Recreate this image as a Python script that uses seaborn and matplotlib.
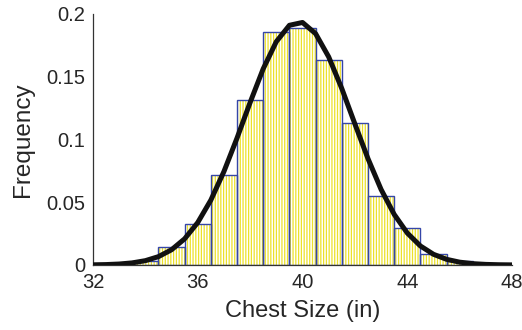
import numpy as np
import pandas as pd
import matplotlib
matplotlib.use("Agg")
import matplotlib.pyplot as plt
import seaborn as sns

# Chest circumference (inches) and relative frequency of each size
chest_size = [33, 34, 35, 36, 37, 38, 39, 40, 41, 42, 43, 44, 45, 46, 47, 48]
frequency = [0.0005, 0.0033, 0.0141, 0.0330, 0.0714, 0.1314, 0.1853, 0.1888,
             0.1631, 0.1127, 0.0546, 0.0293, 0.0087, 0.0031, 0.0005, 0.0002]

# Fitted normal distribution parameters
fit_mean = 39.85
fit_std = 2.06

x_ticks = [32, 36, 40, 44, 48]
y_ticks = [0, 0.05, 0.1, 0.15, 0.2]
y_tick_labels = ["0", "0.05", "0.1", "0.15", "0.2"]

df = pd.DataFrame({"chest": chest_size, "freq": frequency})

sns.set_style("white")
plt.rcParams["font.family"] = ["Liberation Sans", "DejaVu Sans"]
plt.rcParams["hatch.linewidth"] = 0.9

fig = plt.figure(figsize=(5.22, 3.30), dpi=100)
ax = fig.add_axes([0.178, 0.197, 0.803, 0.761])

bin_range = (min(chest_size) - 0.5, max(chest_size) + 0.5)

# hatched yellow fill
sns.histplot(data=df, x="chest", weights="freq", binwidth=1, binrange=bin_range,
             stat="count", ax=ax, facecolor="white", edgecolor="#ece12a",
             hatch="||||||", linewidth=0, alpha=1)
# blue bar outlines
sns.histplot(data=df, x="chest", weights="freq", binwidth=1, binrange=bin_range,
             stat="count", ax=ax, fill=False, color="#3546a8", linewidth=1.0)

# normal fit sampled every half inch
xs = np.arange(32, 48.01, 0.5)
pdf = np.exp(-0.5 * ((xs - fit_mean) / fit_std) ** 2) / (fit_std * np.sqrt(2 * np.pi))
sns.lineplot(x=xs, y=pdf, ax=ax, color="#111111", linewidth=3.6, zorder=5)

ax.set_xlim(32, 48)
ax.set_ylim(0, 0.2)
ax.set_xticks(x_ticks)
ax.set_xticklabels([str(t) for t in x_ticks])
ax.set_yticks(y_ticks)
ax.set_yticklabels(y_tick_labels)
ax.tick_params(direction="in", length=4, width=0.8, labelsize=14.5, color="#333333")
ax.tick_params(axis="x", pad=5.5)
ax.tick_params(axis="y", pad=5.5)
for side in ("top", "right"):
    ax.spines[side].set_visible(False)
for side in ("left", "bottom"):
    ax.spines[side].set_color("#333333")
    ax.spines[side].set_linewidth(0.9)

ax.set_xlabel("Chest Size (in)", fontsize=17, labelpad=6)
ax.set_ylabel("Frequency", fontsize=17.5, labelpad=9)

fig.savefig("out.png", dpi=100)
